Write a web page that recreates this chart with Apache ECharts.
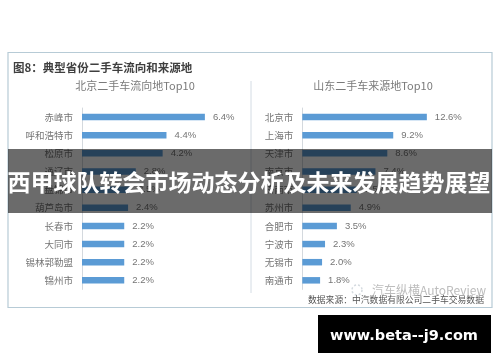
<!DOCTYPE html>
<html><head><meta charset="utf-8">
<style>html,body{margin:0;padding:0;background:#fff}#c{width:500px;height:362px}</style>
<script src="https://cdn.jsdelivr.net/npm/echarts@6/dist/echarts.min.js"></script>
</head><body><div id="c"></div>
<script>
const leftCats=['赤峰市','呼和浩特市','松原市','通辽市','盘锦市','葫芦岛市','长春市','大同市','锡林郭勒盟','锦州市'];
const leftVals=[6.4,4.4,4.2,2.8,2.5,2.4,2.2,2.2,2.2,2.2];
const rightCats=['北京市','上海市','天津市','南京市','济南市','苏州市','合肥市','宁波市','无锡市','南通市'];
const rightVals=[12.6,9.2,8.6,7.4,5.5,4.9,3.5,2.3,2.0,1.8];
const pageTitle='西甲球队转会市场动态分析及未来发展趋势展望';
const figTitle='图8：典型省份二手车流向和来源地';
const leftTitle='北京二手车流向地Top10';
const rightTitle='山东二手车来源地Top10';
const source='数据来源：中汽数据有限公司二手车交易数据';
const watermark='汽车纵横AutoReview';
const site='www.beta--j9.com';
const FONT='"Noto Sans CJK SC","Liberation Sans",sans-serif';
const TXT='#757575', BAR='#5b9bd5';
const chart=echarts.init(document.getElementById('c'),null,{renderer:'canvas'});
function cat(i,data){return {type:'category',gridIndex:i,data,inverse:true,
  axisLine:{show:true,lineStyle:{color:'#d4d9de',width:1}},axisTick:{show:false},
  axisLabel:{color:TXT,fontSize:9.5,fontFamily:FONT,margin:9,interval:0}};}
function val(i,max){return {type:'value',gridIndex:i,min:0,max,show:false,splitLine:{show:false}};}
function ser(i,data){return {type:'bar',xAxisIndex:i,yAxisIndex:i,data,barWidth:6.5,
  itemStyle:{color:BAR},silent:true,animation:false,z:2,
  label:{show:true,position:'right',distance:8,color:TXT,fontSize:9.5,fontFamily:'"Liberation Sans",sans-serif',formatter:p=>p.value.toFixed(1)+'%'}};}
function text(x,y,t,o){return {type:'text',x,y,z:o.z||5,silent:true,style:Object.assign({text:t,fontFamily:FONT,verticalAlign:'middle'},o.s)};}
chart.setOption({
  animation:false,
  grid:[{left:82,top:108,width:192,height:181.4},{left:302.3,top:108,width:229.2,height:181.4}],
  xAxis:[val(0,10),val(1,20)],
  yAxis:[cat(0,leftCats),cat(1,rightCats)],
  series:[ser(0,leftVals),ser(1,rightVals)],
  graphic:[
    {type:'rect',shape:{x:8,y:52.5,width:484,height:255},z:-1,silent:true,style:{fill:'#fff',stroke:'#b7cbd6',lineWidth:1.2}},
    {type:'line',shape:{x1:251,y1:81,x2:251,y2:293},z:0,silent:true,style:{stroke:'#d4dce4',lineWidth:1}},
    text(13,68,figTitle,{s:{fill:'#3f3f3f',fontSize:11.5,fontWeight:'bold'}}),
    text(135,86,leftTitle,{s:{fill:'#7a7a7a',fontSize:11,align:'center'}}),
    text(373,86,rightTitle,{s:{fill:'#7a7a7a',fontSize:11,align:'center'}}),
    {type:'circle',shape:{cx:357,cy:290,r:5},z:5,silent:true,style:{fill:'none',stroke:'#d5dbe0',lineWidth:1.5,lineDash:[2,2]}},
    text(372,290,watermark,{s:{fill:'#bdbdbd',fontSize:12}}),
    text(308,300,source,{s:{fill:'#555',fontSize:8.8,fontFamily:'"Noto Sans CJK SC",serif'}}),
    {type:'rect',shape:{x:8,y:149,width:484,height:64},z:50,silent:true,style:{fill:'rgba(0,0,0,0.58)'}},
    text(249,182,pageTitle,{z:51,s:{fill:'#fff',fontSize:23,fontWeight:'bold',align:'center'}}),
    {type:'rect',shape:{x:318,y:315,width:173,height:38},z:50,silent:true,style:{fill:'#000'}},
    text(404,336,site,{z:51,s:{fill:'#fff',fontSize:14.5,fontWeight:'bold',align:'center',fontFamily:'"DejaVu Sans",sans-serif'}})
  ]
});
</script></body></html>
